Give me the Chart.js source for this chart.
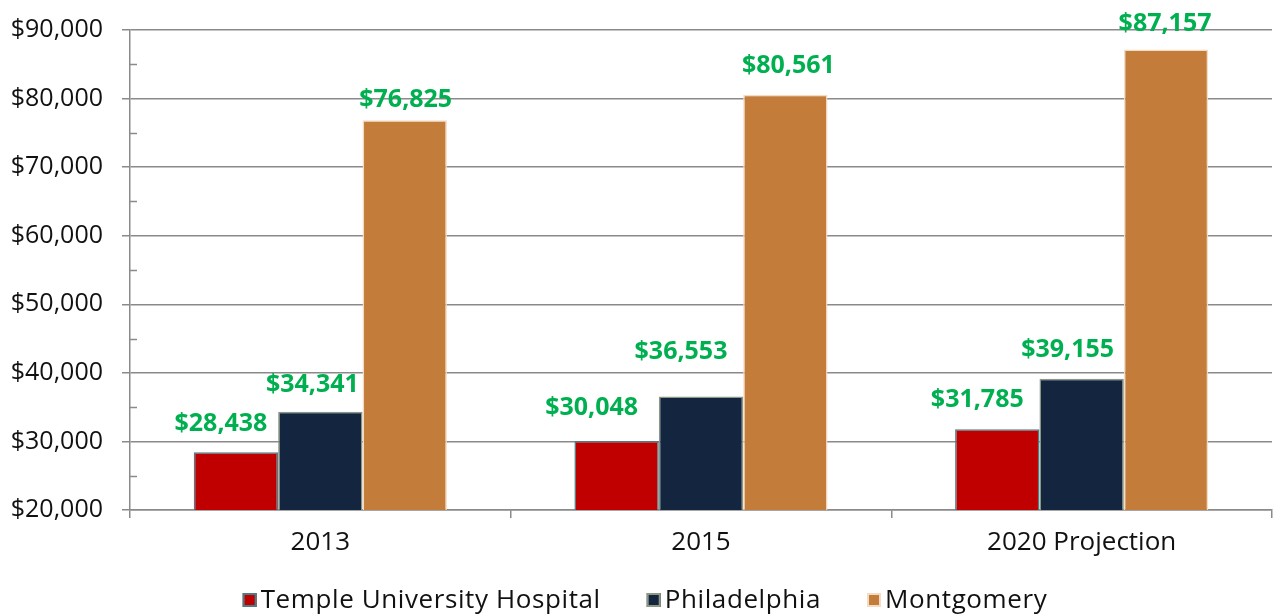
<!DOCTYPE html>
<html>
<head>
<meta charset="utf-8">
<script src="https://cdn.jsdelivr.net/npm/chart.js@4.4.1/dist/chart.umd.min.js"></script>
<style>
  html, body { margin: 0; padding: 0; background: #ffffff; overflow: hidden; }
  #wrap { width: 1282px; height: 616px; position: relative; overflow: hidden; }
  #c { position: absolute; left: 0; top: -4px; }
</style>
</head>
<body>
<div id="wrap"><canvas id="c" width="1282" height="620"></canvas></div>
<script>
// ---- data ----
const categories = ["2013", "2015", "2020 Projection"];
const seriesNames = ["Temple University Hospital", "Philadelphia", "Montgomery"];
const templeValues = [28438, 30048, 31785];
const philadelphiaValues = [34341, 36553, 39155];
const montgomeryValues = [76825, 80561, 87157];
const yTickValues = [20000, 30000, 40000, 50000, 60000, 70000, 80000, 90000];
const yMinorTickValues = [25000, 35000, 45000, 55000, 65000, 75000, 85000];

// ---- style ----
const FONT = "'Open Sans', 'Liberation Sans', sans-serif";
const fills = ["#c00000", "#13253f", "#c47c3b"];
const borders = ["#4b7d86", "#8d9884", "#f3dcc3"];
const GRID = "#8a8a8a";
// label nudges (label centre relative to bar top-centre), per series / per category
const labelNudges = [
  [[-15, -30], [-25, -35], [-20, -31]],
  [[-8, -29], [-20, -47], [-14, -31]],
  [[1, -22], [3, -31], [-1, -28]]
];

function money(v) { return "$" + Math.round(v).toLocaleString("en-US"); }

const valueLabelPlugin = {
  id: "valueLabels",
  afterDatasetsDraw(chart) {
    const ctx = chart.ctx;
    ctx.save();
    ctx.font = "bold 25px " + FONT;
    ctx.fillStyle = "#00b050";
    ctx.textAlign = "center";
    ctx.textBaseline = "middle";
    chart.data.datasets.forEach((ds, di) => {
      const meta = chart.getDatasetMeta(di);
      meta.data.forEach((bar, i) => {
        const n = labelNudges[di][i];
        ctx.fillText(money(ds.data[i]), bar.x + n[0], bar.y + n[1] + 2);
      });
    });
    ctx.restore();
  }
};

const minorTickPlugin = {
  id: "minorTicks",
  afterDraw(chart) {
    const y = chart.scales.y;
    const ctx = chart.ctx;
    ctx.save();
    ctx.strokeStyle = GRID;
    ctx.lineWidth = 1.5;
    yMinorTickValues.forEach(v => {
      const py = Math.round(y.getPixelForValue(v)) + 0.5;
      ctx.beginPath();
      ctx.moveTo(chart.chartArea.left, py);
      ctx.lineTo(chart.chartArea.left + 7, py);
      ctx.stroke();
    });
    ctx.restore();
  }
};

const legendPlugin = {
  id: "customLegend",
  afterDraw(chart) {
    const ctx = chart.ctx;
    ctx.save();
    ctx.font = "26px " + FONT;
    if ("letterSpacing" in ctx) ctx.letterSpacing = "0.6px";
    ctx.textBaseline = "middle";
    ctx.textAlign = "left";
    const box = 14, gapText = 4, gapItem = 46;
    const widths = chart.data.datasets.map(ds => box + gapText + ctx.measureText(ds.label).width);
    const total = widths.reduce((a, b) => a + b, 0) + gapItem * (widths.length - 1);
    let x = (chart.width - total) / 2 + 4;
    const cy = chart.chartArea.bottom + 90;
    chart.data.datasets.forEach((ds, i) => {
      ctx.fillStyle = ds.backgroundColor;
      ctx.fillRect(x, cy - box / 2, box, box);
      ctx.strokeStyle = ds.borderColor;
      ctx.lineWidth = 2;
      ctx.strokeRect(x + 1, cy - box / 2 + 1, box - 2, box - 2);
      ctx.fillStyle = "#111111";
      ctx.fillText(ds.label, x + box + gapText, cy + 1);
      x += widths[i] + gapItem;
    });
    ctx.restore();
  }
};

const allValues = [templeValues, philadelphiaValues, montgomeryValues];

new Chart(document.getElementById("c"), {
  type: "bar",
  data: {
    labels: categories,
    datasets: seriesNames.map((name, i) => ({
      label: name,
      data: allValues[i],
      backgroundColor: fills[i],
      borderColor: borders[i],
      borderWidth: 1.5,
      borderSkipped: "bottom",
      categoryPercentage: 0.665,
      barPercentage: 1.0
    }))
  },
  options: {
    responsive: false,
    animation: false,
    devicePixelRatio: 1,
    layout: { padding: { top: 25, right: 10, bottom: 0, left: 0 } },
    plugins: {
      legend: { display: false },
      tooltip: { enabled: false }
    },
    scales: {
      x: {
        offset: true,
        afterFit(s) { s.height = 106; },
        grid: {
          display: true,
          offset: true,
          drawOnChartArea: false,
          drawTicks: true,
          tickLength: 8,
          color: GRID,
          lineWidth: 1.5
        },
        border: { display: true, color: GRID, width: 1.5 },
        ticks: {
          padding: 9,
          color: "#111111",
          font: { family: FONT, size: 26 }
        }
      },
      y: {
        min: 20000,
        max: 90000,
        afterFit(s) { s.width = 130; },
        afterBuildTicks(s) { s.ticks = yTickValues.map(v => ({ value: v })); },
        grid: {
          color: GRID,
          lineWidth: 1.5,
          drawTicks: true,
          tickLength: 8
        },
        border: { display: true, color: GRID, width: 1.5 },
        ticks: {
          padding: 19,
          color: "#111111",
          font: { family: FONT, size: 25 },
          callback: v => money(v)
        }
      }
    }
  },
  plugins: [valueLabelPlugin, minorTickPlugin, legendPlugin]
});
</script>
</body>
</html>
